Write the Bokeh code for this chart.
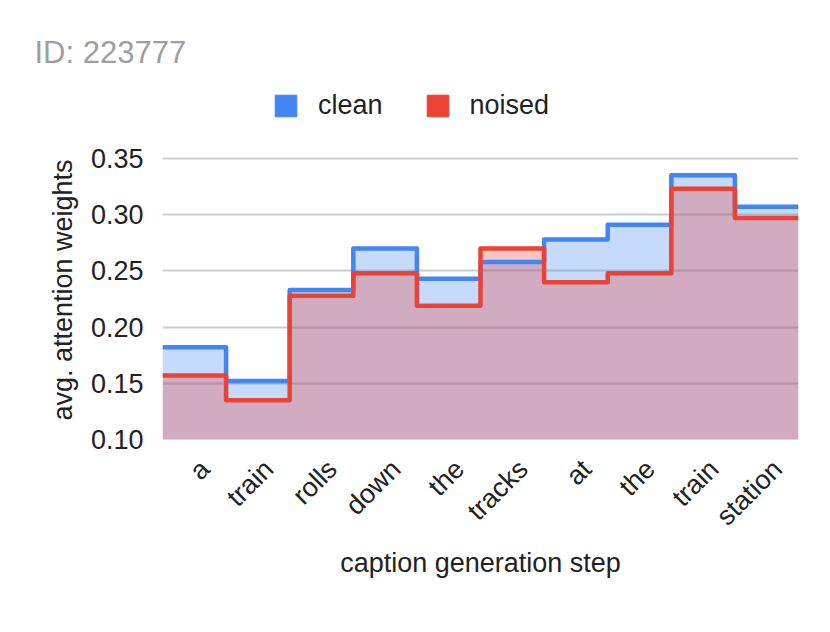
import math
import numpy as np
from bokeh.plotting import figure
from bokeh.models import Range1d, FixedTicker, Legend, LegendItem, LinearAxis
from bokeh.embed import file_html
from bokeh.resources import INLINE

# ---- data ----
steps = ["a", "train", "rolls", "down", "the", "tracks", "at", "the", "train", "station"]
clean = [0.182, 0.152, 0.233, 0.270, 0.243, 0.258, 0.278, 0.291, 0.335, 0.307]
noised = [0.157, 0.135, 0.228, 0.248, 0.219, 0.270, 0.240, 0.248, 0.323, 0.297]
y_ticks = [0.10, 0.15, 0.20, 0.25, 0.30, 0.35]
series_names = ["clean", "noised"]
title_text = "ID: 223777"
x_title = "caption generation step"
y_title = "avg. attention weights"

BLUE = "#4285F4"
RED = "#EA4335"
FONT = "Liberation Sans"
TXT = "#222222"

# layout (page pixels)
FRAME_TOP = 80          # top of drawing frame (room above the axis for the legend)
AXIS_TOP = 158          # pixel row of the highest tick
AXIS_BOTTOM = 439       # pixel row of the lowest tick

n = len(steps)
edges = np.arange(n + 1)
xs = np.repeat(edges, 2)[1:-1]


def stepped(v):
    return np.repeat(np.asarray(v, dtype=float), 2)


y_span = y_ticks[-1] - y_ticks[0]
y_end = y_ticks[-1] + (AXIS_TOP - FRAME_TOP) / (AXIS_BOTTOM - AXIS_TOP) * y_span

p = figure(width=814, height=616, output_backend="svg", toolbar_location=None,
           x_range=Range1d(0, n), y_range=Range1d(y_ticks[0], y_end),
           x_axis_location=None,
           min_border_left=162, min_border_right=16,
           min_border_top=FRAME_TOP, min_border_bottom=616 - AXIS_BOTTOM)
p.outline_line_color = None
p.background_fill_color = "white"
p.border_fill_color = "white"

# areas
p.varea(x=xs, y1=np.zeros_like(xs, dtype=float), y2=stepped(clean),
        fill_color=BLUE, fill_alpha=0.3)
p.varea(x=xs, y1=np.zeros_like(xs, dtype=float), y2=stepped(noised),
        fill_color=RED, fill_alpha=0.3)
# lines
p.line(x=xs, y=stepped(clean), line_color=BLUE, line_width=4.5, line_join="round")
p.line(x=xs, y=stepped(noised), line_color=RED, line_width=4.5, line_join="round")

# legend proxies (no visible data, only the swatch in the legend)
nan = [float("nan")]
q1 = p.quad(left=nan, right=nan, top=nan, bottom=nan, fill_color=BLUE, line_color=BLUE,
            line_join="round", line_width=1)
q2 = p.quad(left=nan, right=nan, top=nan, bottom=nan, fill_color=RED, line_color=RED,
            line_join="round", line_width=1)
legend = Legend(items=[LegendItem(label=series_names[0], renderers=[q1]),
                       LegendItem(label=series_names[1], renderers=[q2])],
                orientation="horizontal", location=(110, 318),
                glyph_width=27, glyph_height=27, label_standoff=19, spacing=41,
                padding=0, margin=0, border_line_color=None,
                background_fill_alpha=0,
                label_text_font=FONT, label_text_font_size="27px",
                label_text_color=TXT)
p.add_layout(legend, "center")

# title
p.title.text = title_text
p.title.text_font = FONT
p.title.text_font_size = "31px"
p.title.text_font_style = "normal"
p.title.text_color = "#9E9E9E"
p.title.align = "left"
p.title.offset = -128
p.title.standoff = 21

# grid
p.xgrid.visible = False
p.ygrid.ticker = FixedTicker(ticks=y_ticks)
p.ygrid.grid_line_color = "#CCCCCC"
p.ygrid.grid_line_width = 2

# x axis on a slightly shifted range so rotated labels sit like the reference
centers = [i + 0.5 for i in range(n)]
p.extra_x_ranges = {"lbl": Range1d(-0.17, n - 0.17)}
xax = LinearAxis(x_range_name="lbl", ticker=FixedTicker(ticks=centers))
p.add_layout(xax, "below")

for ax in (xax, p.yaxis[0]):
    ax.axis_line_color = None
    ax.major_tick_line_color = None
    ax.minor_tick_line_color = None
    ax.major_label_text_font = FONT
    ax.major_label_text_font_size = "27px"
    ax.major_label_text_color = TXT
    ax.axis_label_text_font = FONT
    ax.axis_label_text_font_size = "27px"
    ax.axis_label_text_color = TXT
    ax.axis_label_text_font_style = "normal"

yax = p.yaxis[0]
yax.ticker = FixedTicker(ticks=y_ticks)
yax.bounds = (y_ticks[0], y_ticks[-1])
yax.major_label_overrides = {t: f"{t:.2f}" for t in y_ticks}
yax.major_label_standoff = 13
# trailing no-break spaces centre the visible title on the tick span, not the taller frame
yax.axis_label = y_title + "\u00a0" * 8
yax.axis_label_standoff = 10

xax.major_label_overrides = {c: s for c, s in zip(centers, steps)}
xax.major_label_orientation = math.pi / 4
xax.major_label_standoff = 19
xax.axis_label = x_title
xax.axis_label_standoff = 3

open("out.html", "w").write(file_html(p, INLINE))
